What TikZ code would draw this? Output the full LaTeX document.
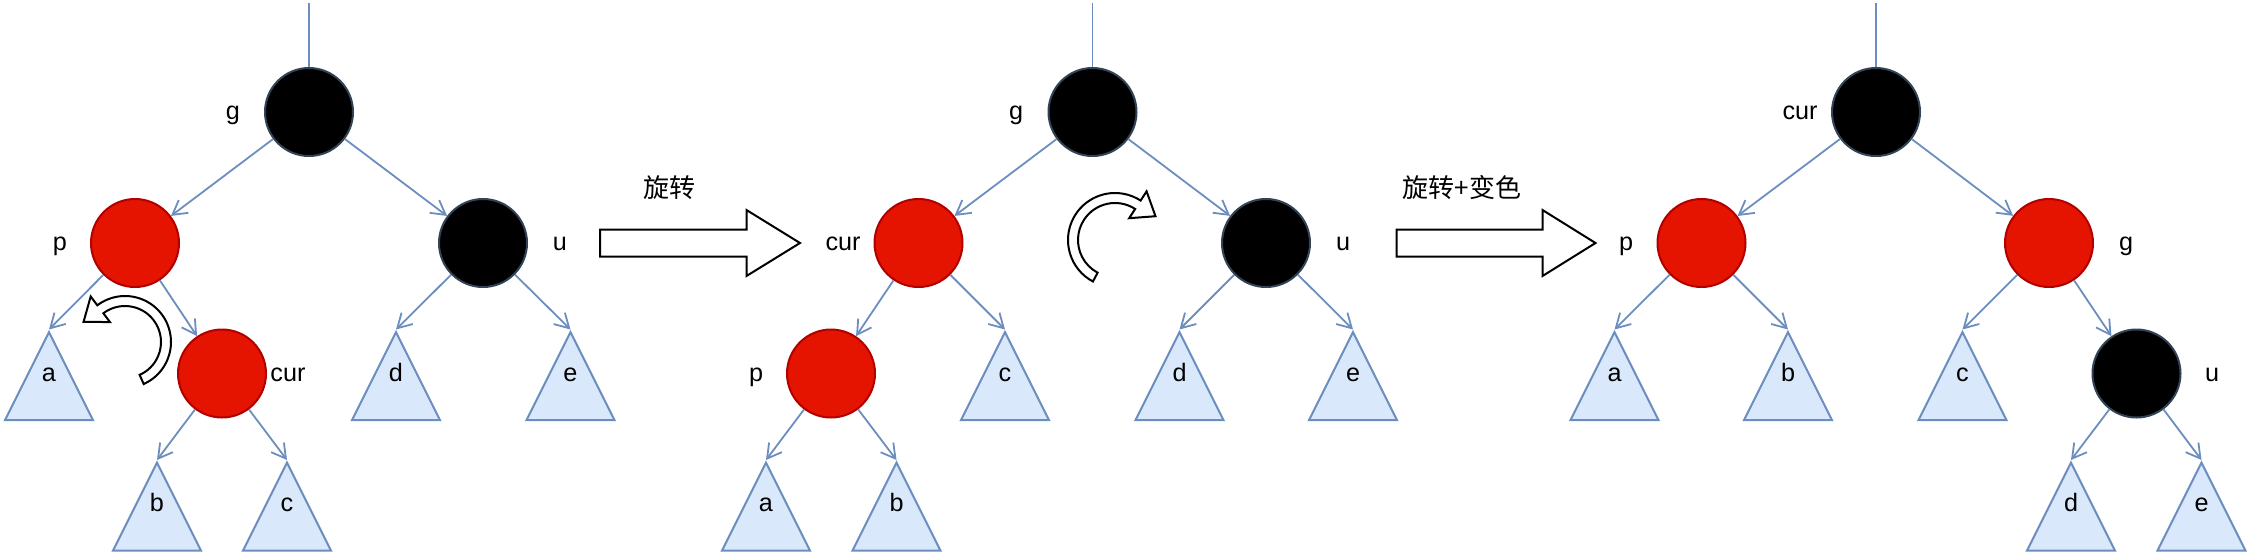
\documentclass[tikz,border=0pt]{standalone}
\usepackage{fontspec}
\setmainfont{Liberation Sans}
\newfontfamily\cjk{Noto Sans CJK SC}
\usetikzlibrary{arrows.meta,shapes.geometric,calc}
\definecolor{edgeblue}{HTML}{6C8EBF}
\definecolor{treefill}{HTML}{DAE8FC}
\definecolor{redfill}{HTML}{E51400}
\definecolor{redline}{HTML}{B20000}
\definecolor{darkline}{HTML}{314354}

\begin{document}
\begin{tikzpicture}[x=0.5pt,y=0.5pt,
  rednode/.style={circle,minimum size=44pt,inner sep=0pt,fill=redfill,draw=redline,line width=1pt},
  blacknode/.style={circle,minimum size=44pt,inner sep=0pt,fill=black,draw=darkline,line width=1pt},
  subtree/.style={isosceles triangle,isosceles triangle stretches,shape border rotate=90,minimum width=44pt,minimum height=44pt,inner sep=0pt,anchor=apex,draw=edgeblue,fill=treefill,line width=1pt},
  tag/.style={font=\fontsize{12.6}{15}\selectfont,text height=9pt,text depth=1.5pt,inner sep=0pt},
  link/.style={-{Straight Barb[length=7pt,width=8pt]},draw=edgeblue,line width=0.9pt},
  stem/.style={draw=edgeblue,line width=0.9pt},
  bigarrow/.style={draw=black,line width=1pt,fill=white},
  turn/.style={draw=black,line width=1pt,fill=white,line join=miter}
]
\useasboundingbox (0,0) rectangle (2250,-553);

% before: cur is the right child of p
\coordinate (top1) at (309,-3);
\node[blacknode] (g1) at (309,-112) {};
\node[rednode] (p1) at (135,-243) {};
\node[blacknode] (u1) at (483,-243) {};
\node[rednode] (cur1) at (222,-373.5) {};
\node[subtree] (ta1) at (49,-329.5) {};
\node[subtree] (td1) at (396,-329.5) {};
\node[subtree] (te1) at (570.5,-329.5) {};
\node[subtree] (tb1) at (157,-460) {};
\node[subtree] (tc1) at (287,-460) {};
\node[tag] (lg1) at (233,-112) {g};
\node[tag] (lp1) at (60,-243) {p};
\node[tag] (lu1) at (560,-243) {u};
\node[tag] (lcur1) at (288,-373.5) {cur};
\node[tag] (la1) at (49,-373.5) {a};
\node[tag] (ld1) at (396,-373.5) {d};
\node[tag] (le1) at (570.5,-373.5) {e};
\node[tag] (lb1) at (157,-504) {b};
\node[tag] (lc1) at (287,-504) {c};
\draw[stem] (top1) -- (g1);
\draw[link] (g1) -- (p1);
\draw[link] (g1) -- (u1);
\draw[link] (p1) -- (ta1.apex);
\draw[link] (p1) -- (cur1);
\draw[link] (cur1) -- (tb1.apex);
\draw[link] (cur1) -- (tc1.apex);
\draw[link] (u1) -- (td1.apex);
\draw[link] (u1) -- (te1.apex);
\coordinate (turn1) at (125,-342);
\draw[turn] ($(turn1)+(-66:46)$) arc[start angle=-66,end angle=127,radius=46]
  -- ($(turn1)+(127:57)$) -- ($(turn1)+(127:41)+(217:21)$) -- ($(turn1)+(127:25)$)
  -- ($(turn1)+(127:36)$) arc[start angle=127,end angle=-66,radius=36] -- cycle;

% first step
\draw[bigarrow] (600,-229.5) -- (746.5,-229.5) -- (746.5,-210) -- (800,-243)
  -- (746.5,-276) -- (746.5,-256.5) -- (600,-256.5) -- cycle;
\node[font=\cjk\fontsize{13}{15}\selectfont] (step1) at (669,-188) {旋转};

% after rotating at p
\coordinate (top2) at (1092.5,-3);
\node[blacknode] (g2) at (1092.5,-112) {};
\node[rednode] (cur2) at (918.5,-243) {};
\node[blacknode] (u2) at (1266,-243) {};
\node[rednode] (p2) at (831,-373.5) {};
\node[subtree] (tc2) at (1005,-329.5) {};
\node[subtree] (td2) at (1179.5,-329.5) {};
\node[subtree] (te2) at (1353,-329.5) {};
\node[subtree] (ta2) at (766,-460) {};
\node[subtree] (tb2) at (896.5,-460) {};
\node[tag] (lg2) at (1016,-112) {g};
\node[tag] (lcur2) at (843,-243) {cur};
\node[tag] (lu2) at (1343,-243) {u};
\node[tag] (lp2) at (756,-373.5) {p};
\node[tag] (lc2) at (1005,-373.5) {c};
\node[tag] (ld2) at (1179.5,-373.5) {d};
\node[tag] (le2) at (1353,-373.5) {e};
\node[tag] (la2) at (766,-504) {a};
\node[tag] (lb2) at (896.5,-504) {b};
\draw[stem] (top2) -- (g2);
\draw[link] (g2) -- (cur2);
\draw[link] (g2) -- (u2);
\draw[link] (cur2) -- (p2);
\draw[link] (cur2) -- (tc2.apex);
\draw[link] (p2) -- (ta2.apex);
\draw[link] (p2) -- (tb2.apex);
\draw[link] (u2) -- (td2.apex);
\draw[link] (u2) -- (te2.apex);
\coordinate (turn2) at (1115,-240);
\draw[turn] ($(turn2)+(242:47)$) arc[start angle=242,end angle=57,radius=47]
  -- ($(turn2)+(57:58)$) -- ($(turn2)+(57:42)+(-33:21)$) -- ($(turn2)+(57:26)$)
  -- ($(turn2)+(57:37)$) arc[start angle=57,end angle=242,radius=37] -- cycle;

% second step
\draw[bigarrow] (1396.5,-229.5) -- (1542.5,-229.5) -- (1542.5,-210) -- (1595.5,-243)
  -- (1542.5,-276) -- (1542.5,-256.5) -- (1396.5,-256.5) -- cycle;
\node[font=\cjk\fontsize{13}{15}\selectfont] (step2) at (1462,-188) {旋转+变色};

% after rotating at g and recolouring
\coordinate (top3) at (1876,-3);
\node[blacknode] (cur3) at (1876,-112) {};
\node[rednode] (p3) at (1701.5,-243) {};
\node[rednode] (g3) at (2049,-243) {};
\node[blacknode] (u3) at (2136.5,-373.5) {};
\node[subtree] (ta3) at (1614.5,-329.5) {};
\node[subtree] (tb3) at (1788,-329.5) {};
\node[subtree] (tc3) at (1962.5,-329.5) {};
\node[subtree] (td3) at (2071,-460) {};
\node[subtree] (te3) at (2201.5,-460) {};
\node[tag] (lcur3) at (1800,-112) {cur};
\node[tag] (lp3) at (1626,-243) {p};
\node[tag] (lg3) at (2126,-243) {g};
\node[tag] (lu3) at (2212,-373.5) {u};
\node[tag] (la3) at (1614.5,-373.5) {a};
\node[tag] (lb3) at (1788,-373.5) {b};
\node[tag] (lc3) at (1962.5,-373.5) {c};
\node[tag] (ld3) at (2071,-504) {d};
\node[tag] (le3) at (2201.5,-504) {e};
\draw[stem] (top3) -- (cur3);
\draw[link] (cur3) -- (p3);
\draw[link] (cur3) -- (g3);
\draw[link] (p3) -- (ta3.apex);
\draw[link] (p3) -- (tb3.apex);
\draw[link] (g3) -- (tc3.apex);
\draw[link] (g3) -- (u3);
\draw[link] (u3) -- (td3.apex);
\draw[link] (u3) -- (te3.apex);
\end{tikzpicture}
\end{document}
